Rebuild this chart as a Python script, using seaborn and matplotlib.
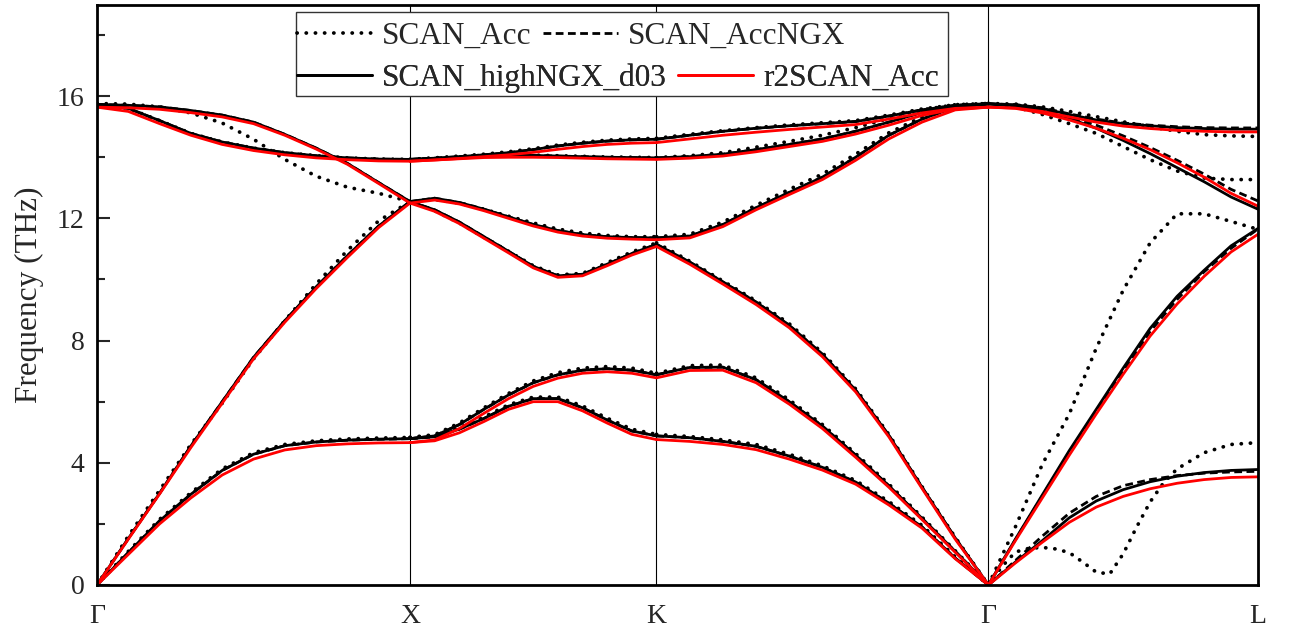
import numpy as np
import pandas as pd
import matplotlib
matplotlib.use("Agg")
import matplotlib.pyplot as plt
from matplotlib.lines import Line2D
from matplotlib.patches import Rectangle
import seaborn as sns

# ---------------- data (frequencies in THz) ----------------
k_labels = ["Γ", "X", "K", "Γ", "L"]
k_nodes = [0.0, 1.0, 1.7875, 2.848, 3.7093]
segments = ["GX", "XK", "KG", "GL"]
t_grid = [0.0, 0.1, 0.2, 0.3, 0.4, 0.5, 0.6, 0.7, 0.8, 0.9, 1.0]
t_fine = [0.0, 0.05, 0.1, 0.15, 0.2, 0.25, 0.3, 0.35, 0.4, 0.45, 0.5,
          0.55, 0.6, 0.65, 0.7, 0.8, 0.9, 1.0]

# SCAN_highNGX_d03 (solid black)
hi_GX = [
    [0, 1.06, 2.1, 2.97, 3.75, 4.28, 4.56, 4.68, 4.74, 4.77, 4.79],
    [0, 1.52, 3.0, 4.55, 6.0, 7.45, 8.65, 9.75, 10.78, 11.75, 12.55],
    [15.73, 15.7, 15.65, 15.53, 15.38, 15.15, 14.75, 14.3, 13.8, 13.17, 12.55],
    [15.73, 15.6, 15.2, 14.78, 14.5, 14.3, 14.15, 14.05, 13.98, 13.94, 13.93],
]
hi_XK = [
    [4.79, 4.88, 5.25, 5.75, 6.22, 6.62, 6.88, 7.03, 7.08, 7.03, 6.88],
    [4.79, 4.85, 5.1, 5.45, 5.85, 6.1, 6.1, 5.8, 5.4, 5.04, 4.88],
    [12.55, 12.28, 11.88, 11.4, 10.92, 10.43, 10.12, 10.17, 10.5, 10.85, 11.15],
    [12.55, 12.66, 12.52, 12.3, 12.05, 11.8, 11.6, 11.47, 11.4, 11.37, 11.36],
    [13.93, 13.97, 14.02, 14.08, 14.15, 14.25, 14.37, 14.46, 14.53, 14.57, 14.59],
    [13.93, 13.96, 14.0, 14.04, 14.06, 14.06, 14.04, 14.02, 14.0, 13.99, 13.98],
]
hi_KG = [
    [4.88, 4.82, 4.7, 4.54, 4.22, 3.85, 3.37, 2.68, 1.9, 0.88, 0],
    [6.88, 7.12, 7.13, 6.72, 6.0, 5.2, 4.25, 3.25, 2.18, 1.1, 0],
    [11.15, 10.57, 9.92, 9.26, 8.5, 7.55, 6.38, 4.9, 3.2, 1.54, 0],
    [11.36, 11.42, 11.8, 12.35, 12.85, 13.35, 14.0, 14.72, 15.25, 15.64, 15.75],
    [13.98, 14.02, 14.1, 14.25, 14.42, 14.6, 14.85, 15.15, 15.47, 15.68, 15.75],
    [14.59, 14.72, 14.85, 14.95, 15.03, 15.1, 15.17, 15.35, 15.55, 15.7, 15.75],
]
hi_GL = [
    [0, 0.75, 1.45, 2.2, 2.75, 3.12, 3.38, 3.56, 3.68, 3.75, 3.78],
    [0, 1.5, 2.95, 4.4, 5.75, 7.1, 8.4, 9.45, 10.3, 11.1, 11.67],
    [15.75, 15.68, 15.52, 15.27, 14.95, 14.55, 14.12, 13.66, 13.2, 12.7, 12.3],
    [15.75, 15.72, 15.6, 15.4, 15.22, 15.1, 15.03, 14.97, 14.94, 14.92, 14.92],
]

# SCAN_AccNGX (dashed) - coincides with highNGX except along Γ-L
ngx_GL = [
    [0, 0.8, 1.6, 2.35, 2.9, 3.25, 3.45, 3.58, 3.66, 3.7, 3.72],
    [0, 1.48, 2.92, 4.35, 5.7, 6.98, 8.3, 9.35, 10.25, 11.02, 11.65],
    [15.75, 15.68, 15.55, 15.32, 15.05, 14.7, 14.32, 13.9, 13.45, 12.95, 12.57],
    [15.75, 15.72, 15.62, 15.42, 15.25, 15.12, 15.05, 15.0, 14.97, 14.96, 14.96],
]

# SCAN_Acc (dotted)
acc_GX = [
    [0, 1.1, 2.15, 3.02, 3.8, 4.33, 4.6, 4.72, 4.78, 4.81, 4.83],
    [0, 1.6, 3.1, 4.6, 5.95, 7.4, 8.65, 9.85, 10.95, 11.92, 12.55],
    [15.76, 15.74, 15.65, 15.45, 15.12, 14.59, 13.93, 13.38, 13.02, 12.82, 12.55],
    [15.76, 15.6, 15.2, 14.78, 14.5, 14.3, 14.15, 14.05, 13.98, 13.94, 13.93],
]
acc_XK = [
    [4.83, 4.92, 5.3, 5.8, 6.27, 6.68, 6.95, 7.1, 7.15, 7.1, 6.93],
    [4.83, 4.9, 5.15, 5.5, 5.9, 6.15, 6.15, 5.86, 5.46, 5.1, 4.93],
    [12.55, 12.25, 11.85, 11.38, 10.92, 10.45, 10.15, 10.2, 10.55, 10.9, 11.2],
    [12.55, 12.62, 12.5, 12.3, 12.07, 11.85, 11.65, 11.52, 11.44, 11.4, 11.4],
    [13.93, 13.98, 14.04, 14.1, 14.18, 14.28, 14.4, 14.49, 14.56, 14.6, 14.62],
    [13.93, 13.97, 14.01, 14.05, 14.07, 14.07, 14.05, 14.03, 14.01, 14.0, 13.99],
]
acc_KG = [
    [4.93, 4.86, 4.75, 4.6, 4.28, 3.9, 3.42, 2.73, 1.95, 0.92, 0],
    [6.93, 7.18, 7.2, 6.78, 6.06, 5.25, 4.3, 3.3, 2.22, 1.12, 0],
    [11.2, 10.6, 9.95, 9.3, 8.55, 7.6, 6.42, 4.93, 3.22, 1.56, 0],
    [11.4, 11.48, 11.88, 12.43, 12.95, 13.45, 14.1, 14.8, 15.32, 15.68, 15.76],
    [13.99, 14.05, 14.15, 14.33, 14.52, 14.72, 14.97, 15.27, 15.55, 15.72, 15.76],
    [14.62, 14.75, 14.87, 14.97, 15.06, 15.13, 15.2, 15.38, 15.58, 15.72, 15.76],
]
acc_GL = [
    [0, 1.9, 3.95, 5.6, 7.75, 9.65, 11.2, 12.15, 12.15, 11.9, 11.64],
    [15.76, 15.65, 15.4, 15.1, 14.78, 14.35, 13.92, 13.55, 13.32, 13.27, 13.27],
    [15.76, 15.74, 15.65, 15.5, 15.33, 15.16, 15.0, 14.85, 14.74, 14.7, 14.68],
]
acc_GL_TA = [0, 0.6, 1.08, 1.2, 1.23, 1.18, 1.06, 0.75, 0.42, 0.36, 1.02,
             1.9, 2.72, 3.35, 3.8, 4.33, 4.6, 4.66]

# r2SCAN_Acc (red)
r2_GX = [
    [0, 1.0, 2.0, 2.85, 3.6, 4.12, 4.42, 4.56, 4.62, 4.65, 4.66],
    [0, 1.5, 2.98, 4.5, 5.95, 7.4, 8.6, 9.7, 10.72, 11.7, 12.5],
    [15.64, 15.62, 15.57, 15.46, 15.32, 15.1, 14.72, 14.27, 13.77, 13.14, 12.5],
    [15.64, 15.5, 15.1, 14.72, 14.42, 14.22, 14.08, 13.98, 13.92, 13.88, 13.87],
]
r2_XK = [
    [4.66, 4.75, 5.12, 5.62, 6.1, 6.5, 6.77, 6.93, 6.98, 6.93, 6.78],
    [4.66, 4.72, 4.98, 5.35, 5.75, 6.0, 6.0, 5.7, 5.3, 4.93, 4.76],
    [12.5, 12.23, 11.83, 11.35, 10.87, 10.38, 10.07, 10.12, 10.45, 10.8, 11.08],
    [12.5, 12.6, 12.47, 12.25, 12.0, 11.75, 11.55, 11.42, 11.35, 11.32, 11.3],
    [13.87, 13.91, 13.96, 14.02, 14.08, 14.16, 14.26, 14.35, 14.42, 14.46, 14.48],
    [13.87, 13.91, 13.95, 13.99, 14.0, 14.0, 13.99, 13.97, 13.95, 13.94, 13.93],
]
r2_KG = [
    [4.76, 4.7, 4.6, 4.43, 4.12, 3.76, 3.3, 2.62, 1.86, 0.86, 0],
    [6.78, 7.02, 7.03, 6.62, 5.92, 5.12, 4.18, 3.2, 2.14, 1.07, 0],
    [11.08, 10.5, 9.85, 9.18, 8.42, 7.47, 6.32, 4.85, 3.16, 1.5, 0],
    [11.3, 11.36, 11.73, 12.28, 12.78, 13.27, 13.9, 14.6, 15.15, 15.55, 15.64],
    [13.93, 13.97, 14.04, 14.18, 14.35, 14.52, 14.76, 15.05, 15.37, 15.58, 15.64],
    [14.48, 14.6, 14.72, 14.82, 14.91, 14.99, 15.07, 15.25, 15.45, 15.6, 15.64],
]
r2_GL = [
    [0, 0.72, 1.4, 2.05, 2.55, 2.9, 3.15, 3.33, 3.45, 3.52, 3.54],
    [0, 1.45, 2.85, 4.25, 5.6, 6.9, 8.15, 9.2, 10.1, 10.9, 11.48],
    [15.64, 15.6, 15.45, 15.22, 14.95, 14.62, 14.25, 13.82, 13.35, 12.82, 12.4],
    [15.64, 15.61, 15.5, 15.32, 15.15, 15.02, 14.94, 14.88, 14.85, 14.83, 14.83],
]

series_names = ["SCAN_Acc", "SCAN_AccNGX", "SCAN_highNGX_d03", "r2SCAN_Acc"]
bands = {
    "SCAN_highNGX_d03": {"GX": hi_GX, "XK": hi_XK, "KG": hi_KG, "GL": hi_GL},
    "SCAN_AccNGX": {"GX": hi_GX, "XK": hi_XK, "KG": hi_KG, "GL": ngx_GL},
    "SCAN_Acc": {"GX": acc_GX, "XK": acc_XK, "KG": acc_KG, "GL": acc_GL},
    "r2SCAN_Acc": {"GX": r2_GX, "XK": r2_XK, "KG": r2_KG, "GL": r2_GL},
}

# ---------------- long table ----------------
rows = []
pid = 0
for name in series_names:
    for si, seg in enumerate(segments):
        k0, k1 = k_nodes[si], k_nodes[si + 1]
        branches = [(t_grid, b) for b in bands[name][seg]]
        if name == "SCAN_Acc" and seg == "GL":
            branches.append((t_fine, acc_GL_TA))
        for grid, vals in branches:
            for t, f in zip(grid, vals):
                rows.append((name, pid, k0 + t * (k1 - k0), f))
            pid += 1
df = pd.DataFrame(rows, columns=["dataset", "piece", "k", "freq"])

# ---------------- style ----------------
sns.set_style("white")
serif = ["Liberation Serif", "DejaVu Serif"]
plt.rcParams["font.family"] = serif
plt.rcParams["axes.unicode_minus"] = False

fig = plt.figure(figsize=(12.89, 6.36), dpi=100)
ax = fig.add_axes([97 / 1289, 1 - 585 / 636, (1258 - 97) / 1289, (585 - 4.5) / 636])

styles = {
    "SCAN_highNGX_d03": dict(color="black", lw=2.0, ls="-", z=2.0),
    "SCAN_AccNGX": dict(color="black", lw=2.0, ls=(0, (2.8, 1.6)), z=2.1),
    "SCAN_Acc": dict(color="black", lw=2.7, ls=(0, (0.05, 2.4)), z=2.2),
    "r2SCAN_Acc": dict(color="#ff0000", lw=2.0, ls="-", z=2.3),
}
draw_order = ["SCAN_highNGX_d03", "SCAN_AccNGX", "SCAN_Acc", "r2SCAN_Acc"]
for name in draw_order:
    st = styles[name]
    sub = df[df["dataset"] == name]
    sns.lineplot(data=sub, x="k", y="freq", units="piece", estimator=None,
                 color=st["color"], linewidth=st["lw"], linestyle=st["ls"],
                 dash_capstyle="round" if name == "SCAN_Acc" else "butt",
                 solid_joinstyle="round",
                 zorder=st["z"], ax=ax, legend=False)

for kx in k_nodes[1:-1]:
    ax.axvline(kx, color="black", lw=0.8, zorder=1)

ax.set_xlim(k_nodes[0], k_nodes[-1])
ax.set_ylim(0, 19)
ax.set_xticks(k_nodes)
ax.set_xticklabels(k_labels)
ax.set_yticks([0, 4, 8, 12, 16])
ax.set_yticks([2, 6, 10, 14, 18], minor=True)
ax.tick_params(axis="x", length=0, pad=14, labelsize=20)
ax.tick_params(axis="y", which="major", direction="in", length=9, width=1.5,
               labelsize=20, pad=9, left=True, right=False)
ax.tick_params(axis="y", which="minor", direction="in", length=5.5, width=1.5,
               left=True, right=False)
ax.set_xlabel("")
ax.set_ylabel("Frequency (THz)", fontsize=22.5, labelpad=9)
for sp in ax.spines.values():
    sp.set_linewidth(2.0)
    sp.set_color("black")

# ---------------- legend (two free-flowing rows in a box) ----------------
h = {n: Line2D([], [], color=styles[n]["color"], lw=styles[n]["lw"],
               linestyle=styles[n]["ls"],
               dash_capstyle="round" if n == "SCAN_Acc" else "butt")
     for n in series_names}
box = Rectangle((295.6 / 1289, 1 - 96 / 636), (948 - 295.6) / 1289, (96 - 11.7) / 636,
                transform=fig.transFigure, facecolor="white", edgecolor="#333333",
                lw=1.0, zorder=4, clip_on=False)
ax.add_patch(box)
rows_leg = [["SCAN_Acc", "SCAN_AccNGX"], ["SCAN_highNGX_d03", "r2SCAN_Acc"]]
ycent = [1 - 36 / 636, 1 - 78 / 636]
for names, yc in zip(rows_leg, ycent):
    leg = ax.legend([h[n] for n in names], names, ncol=2, loc="center left",
                    bbox_to_anchor=(297 / 1289, yc), bbox_transform=fig.transFigure,
                    frameon=False, borderpad=0, borderaxespad=0,
                    handlelength=2.4, handletextpad=0.33, columnspacing=0.35,
                    prop={"family": serif, "size": 22.5})
    leg.set_zorder(5)
    ax.add_artist(leg)

fig.savefig("out.png", dpi=100)
